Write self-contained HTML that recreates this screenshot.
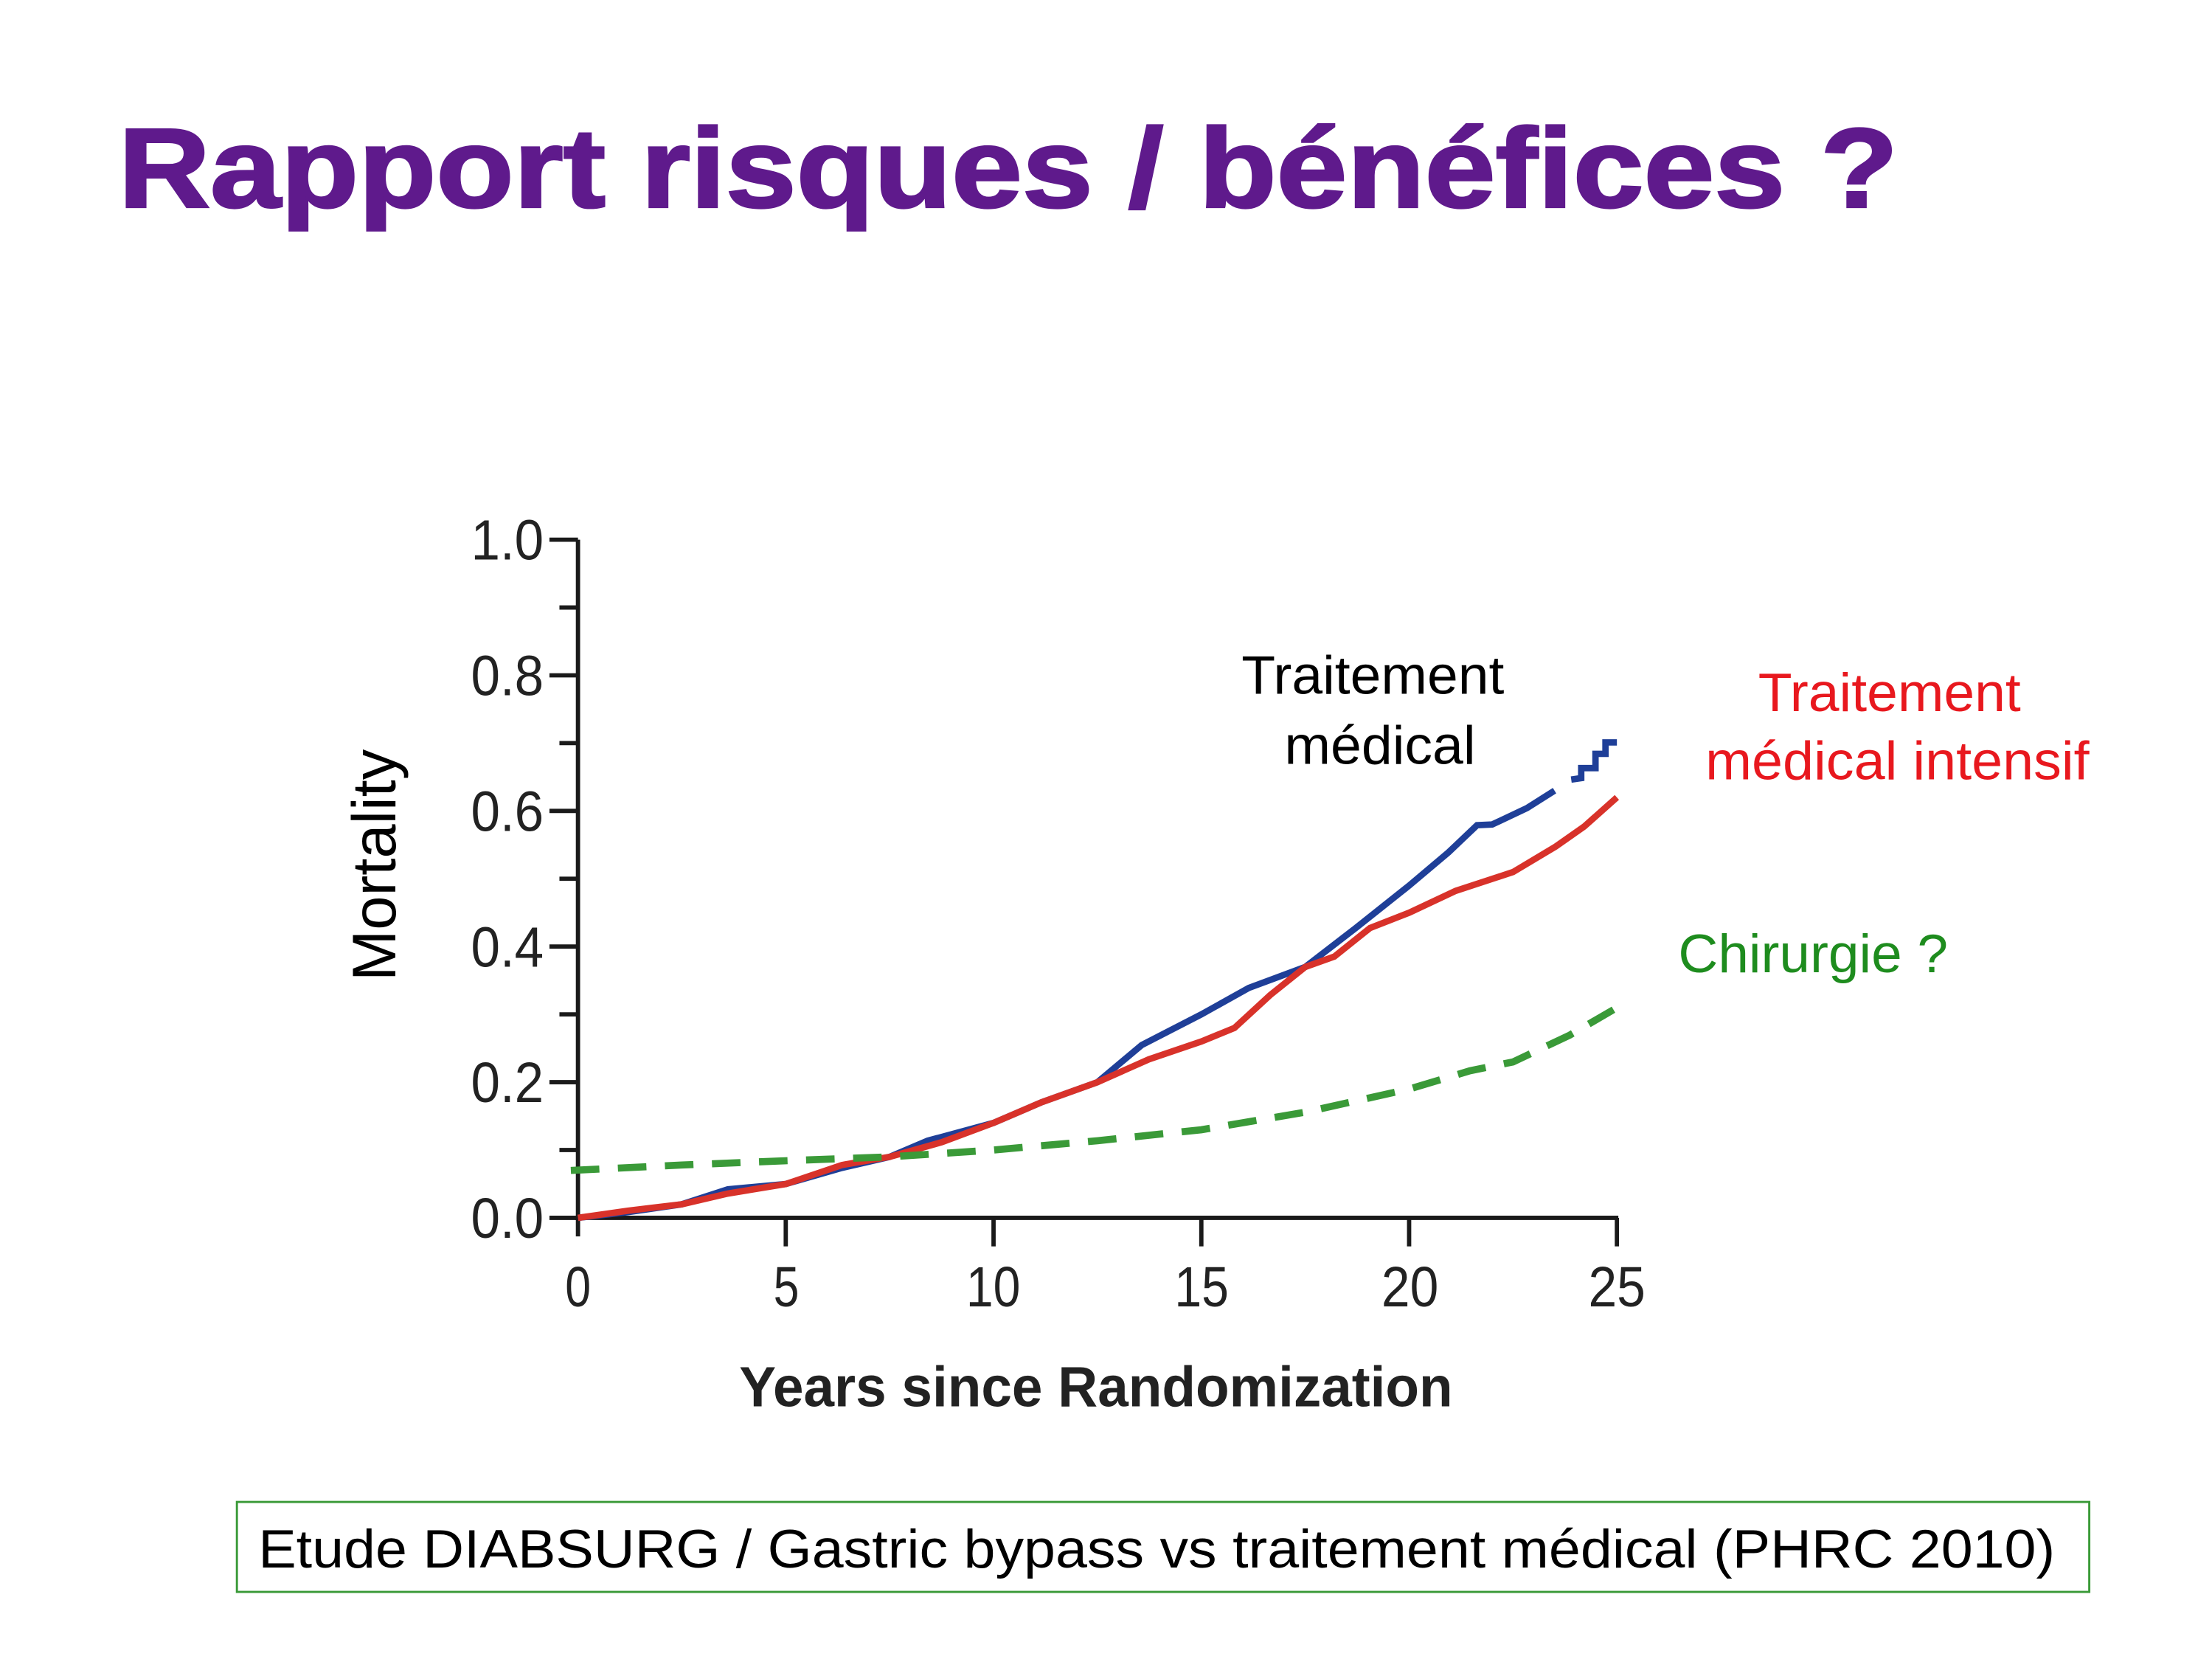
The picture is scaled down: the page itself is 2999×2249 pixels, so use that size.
<!DOCTYPE html>
<html><head><meta charset="utf-8"><style>
html,body{margin:0;padding:0;background:#fff;}
svg{display:block}
</style></head><body>
<svg width="2999" height="2249" viewBox="0 0 1550 1162" preserveAspectRatio="none" xmlns="http://www.w3.org/2000/svg">
<rect width="1550" height="1162" fill="#fff"/>
<text x="83" y="145" font-family="Liberation Sans, Arial, sans-serif" font-weight="bold" font-size="79" fill="#5f1a8c" stroke="#5f1a8c" stroke-width="1.5" textLength="1247" lengthAdjust="spacingAndGlyphs">Rapport risques / bénéfices ?</text>

<g stroke="#1a1a1a" stroke-width="3" fill="none">
<line x1="405" y1="378" x2="405" y2="866"/>
<line x1="403" y1="853" x2="1134" y2="853"/>
<line x1="385" y1="853" x2="405" y2="853"/>
<line x1="385" y1="758" x2="405" y2="758"/>
<line x1="385" y1="663" x2="405" y2="663"/>
<line x1="385" y1="568" x2="405" y2="568"/>
<line x1="385" y1="473" x2="405" y2="473"/>
<line x1="385" y1="378" x2="405" y2="378"/>
<line x1="392" y1="805.5" x2="405" y2="805.5"/>
<line x1="392" y1="710.5" x2="405" y2="710.5"/>
<line x1="392" y1="615.5" x2="405" y2="615.5"/>
<line x1="392" y1="520.5" x2="405" y2="520.5"/>
<line x1="392" y1="425.5" x2="405" y2="425.5"/>
<line x1="550.6" y1="853" x2="550.6" y2="873"/>
<line x1="696.2" y1="853" x2="696.2" y2="873"/>
<line x1="841.8" y1="853" x2="841.8" y2="873"/>
<line x1="987.4" y1="853" x2="987.4" y2="873"/>
<line x1="1133" y1="853" x2="1133" y2="873"/>
</g>
<g font-family="Liberation Sans, sans-serif" font-size="40" fill="#222" lengthAdjust="spacingAndGlyphs">
<text x="330" y="867" textLength="51" lengthAdjust="spacingAndGlyphs">0.0</text>
<text x="330" y="772" textLength="51" lengthAdjust="spacingAndGlyphs">0.2</text>
<text x="330" y="677" textLength="51" lengthAdjust="spacingAndGlyphs">0.4</text>
<text x="330" y="582" textLength="51" lengthAdjust="spacingAndGlyphs">0.6</text>
<text x="330" y="487" textLength="51" lengthAdjust="spacingAndGlyphs">0.8</text>
<text x="330" y="392" textLength="51" lengthAdjust="spacingAndGlyphs">1.0</text>
</g>
<g font-family="Liberation Sans, sans-serif" font-size="40" fill="#222">
<text x="396" y="915" textLength="18" lengthAdjust="spacingAndGlyphs">0</text>
<text x="542" y="915" textLength="18" lengthAdjust="spacingAndGlyphs">5</text>
<text x="677" y="915" textLength="38" lengthAdjust="spacingAndGlyphs">10</text>
<text x="823" y="915" textLength="38" lengthAdjust="spacingAndGlyphs">15</text>
<text x="968" y="915" textLength="40" lengthAdjust="spacingAndGlyphs">20</text>
<text x="1113" y="915" textLength="40" lengthAdjust="spacingAndGlyphs">25</text>
</g>
<text x="518" y="985" font-family="Liberation Sans, sans-serif" font-weight="bold" font-size="40" fill="#222" textLength="500" lengthAdjust="spacingAndGlyphs">Years since Randomization</text>
<text transform="translate(277,606) rotate(-90)" text-anchor="middle" font-family="Liberation Sans, sans-serif" font-size="43" fill="#000">Mortality</text>

<polyline fill="none" stroke="#1f3f98" stroke-width="4.5" points="405,853 440,849 477.8,843.5 510,833 550.6,829.3 590,818 623.4,810.3 650,799 696.2,786.5 730,772 769,758 800,732 841.8,710.5 875,692 914.6,677.3 950,650 987.4,620.3 1015,597 1035,578 1045.6,577.5 1070,566 1089.3,553.8"/>
<polyline fill="none" stroke="#1f3f98" stroke-width="4.5" points="1101,546 1108,545 1108,538 1118,538 1118,528 1125,528 1125,520 1133,520"/>
<polyline fill="none" stroke="#d8322a" stroke-width="4.5" points="405,853 440,848 477.8,843.5 510,836 550.6,829.3 590,816 623.4,810.3 660,800 696.2,786.5 730,772 769,758 805,742 841.8,729.5 865,720 890,697 914.6,677.3 935,670 960,650 987.4,639.3 1020,624 1060.2,610.8 1090,593 1110,579 1133,558.5"/>
<polyline fill="none" stroke="#3a9a38" stroke-width="5" stroke-dasharray="20,13" points="400,819.8 477.8,816 550.6,813 623.4,810.3 696.2,805.5 769,799 841.8,791.3 914.6,779 987.4,762.8 1030,750 1060.2,743.8 1100,725 1133,705.8"/>

<g font-family="Liberation Sans, sans-serif" font-size="38">
<text x="870" y="486" fill="#000" textLength="184" lengthAdjust="spacingAndGlyphs">Traitement</text>
<text x="900" y="535" fill="#000" textLength="134" lengthAdjust="spacingAndGlyphs">médical</text>
<text x="1232" y="498" fill="#e8181e" textLength="184" lengthAdjust="spacingAndGlyphs">Traitement</text>
<text x="1195" y="546" fill="#e8181e" textLength="269" lengthAdjust="spacingAndGlyphs">médical intensif</text>
<text x="1176" y="681" fill="#1e8c1e" textLength="189" lengthAdjust="spacingAndGlyphs">Chirurgie ?</text>
</g>

<rect x="166" y="1052" width="1298" height="63" fill="none" stroke="#3a9a38" stroke-width="1.5"/>
<text x="181" y="1098" font-family="Liberation Sans, sans-serif" font-size="38" fill="#000" textLength="1259" lengthAdjust="spacingAndGlyphs">Etude DIABSURG  / Gastric bypass  vs traitement médical (PHRC 2010)</text>
</svg>
</body></html>
